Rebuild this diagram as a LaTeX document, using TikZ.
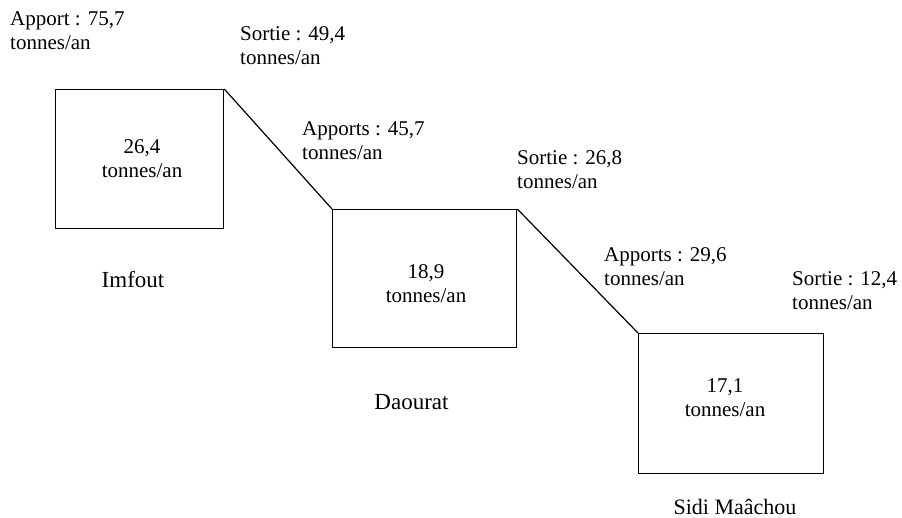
\documentclass[tikz,border=0pt]{standalone}
\usepackage{fontspec}
\setmainfont{Liberation Serif}
\begin{document}
\begin{tikzpicture}[x=1pt,y=-1pt,
  box/.style={draw, line width=1.3pt, inner sep=0pt, anchor=north west},
  lbl/.style={inner sep=0pt, anchor=north west, align=left, font=\fontsize{21}{24.5}\selectfont},
  ctr/.style={inner sep=0pt, anchor=north, align=center, font=\fontsize{21}{24.5}\selectfont},
  site/.style={inner sep=0pt, anchor=base, font=\fontsize{23}{27}\selectfont},
  link/.style={line width=1.2pt}]
\useasboundingbox[fill=white] (0,0) rectangle (902,518);
% boxes
\node[box, minimum width=168pt, minimum height=139pt] (imf) at (55,89) {};
\node[box, minimum width=184pt, minimum height=138pt] (dao) at (332,209) {};
\node[box, minimum width=185pt, minimum height=140pt] (sid) at (638,333) {};
% connectors
\draw[link] (imf.north east) -- (dao.north west);
\draw[link] (dao.north east) -- (sid.north west);
% values in boxes
\node[ctr] (v1) at (142,139) {26,4\\tonnes/an};
\node[ctr] (v2) at (426,264) {18,9\\tonnes/an};
\node[ctr] (v3) at (725,378) {17,1\\tonnes/an};
% site names
\node[site] (n1) at (133,287.7) {Imfout};
\node[site] (n2) at (411.5,409) {Daourat};
\node[site, font=\fontsize{22}{26}\selectfont] (n3) at (735,514.7) {Sidi Maâchou};
% flow labels
\node[lbl] (a1) at (10,11) {Apport : 75,7\\tonnes/an};
\node[lbl] (s1) at (240,26) {Sortie : 49,4\\tonnes/an};
\node[lbl] (a2) at (302,121) {Apports : 45,7\\tonnes/an};
\node[lbl] (s2) at (517,150) {Sortie : 26,8\\tonnes/an};
\node[lbl] (a3) at (604,247) {Apports : 29,6\\tonnes/an};
\node[lbl] (s3) at (792,271) {Sortie : 12,4\\tonnes/an};
\end{tikzpicture}
\end{document}
